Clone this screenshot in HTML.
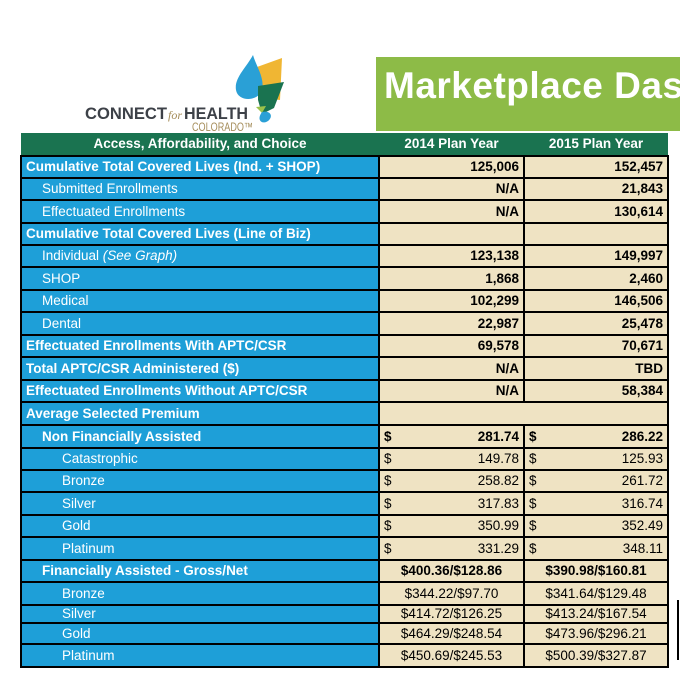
<!DOCTYPE html>
<html><head><meta charset="utf-8"><style>
body{margin:0;width:680px;height:683px;background:#fff;position:relative;overflow:hidden;font-family:"Liberation Sans",sans-serif}
.banner{position:absolute;left:376px;top:57px;width:304px;height:74px;background:#8dbb47;color:#fff;font-weight:bold;font-size:37px;line-height:58px;padding-left:8px;box-sizing:border-box;white-space:nowrap;overflow:hidden;letter-spacing:0.5px}
table{position:absolute;left:20px;top:133px;border-collapse:collapse;table-layout:fixed;width:647px}
td{border:2px solid #000;padding:0 4px;font-size:13.5px;white-space:nowrap;overflow:hidden;box-sizing:border-box;line-height:16px}
td.l{background:#1e9fd8;color:#fff}
td.v{background:#efe3c3;color:#000;text-align:right;font-weight:bold}
td.n{font-weight:normal}
td.c{text-align:center}
tr.h td{background:#1a7350;color:#fff;font-weight:bold;text-align:center;border:none;border-bottom:2px solid #000}
.b{font-weight:bold}
.i1{padding-left:20px}.i2{padding-left:40px}
.d{float:left}
</style></head><body>
<svg style="position:absolute;left:0;top:0" width="376" height="133">
<path d="M257 67 L282 58 L280 100 L262 98Z" fill="#f0b633"/>
<path d="M253 55 C246 68 234 78 236 90 C238 102 258 102 262 90 C265 78 256 66 253 55Z" fill="#2aa0d6"/>
<path d="M258 86 L284 82 L274 108 L262 114 L258 100Z" fill="#1a7350"/>
<path d="M256 107 L266 106 L262 113Z" fill="#9cc24a"/>
<path d="M262 112 C270 110 274 116 268 121 C262 125 256 120 262 112Z" fill="#2aa0d6"/>
<text x="85" y="119" font-family="Liberation Sans" font-weight="bold" font-size="17" fill="#3d4148" textLength="82" lengthAdjust="spacingAndGlyphs">CONNECT</text>
<text x="168" y="119" font-family="Liberation Serif" font-style="italic" font-size="12" fill="#a58d5a">for</text>
<text x="184" y="119" font-family="Liberation Sans" font-weight="bold" font-size="17" fill="#3d4148" textLength="64" lengthAdjust="spacingAndGlyphs">HEALTH</text>
<text x="192" y="131" font-family="Liberation Sans" font-size="12" fill="#a58d5a" textLength="61" lengthAdjust="spacingAndGlyphs">COLORADO™</text>
</svg>
<div class="banner">Marketplace Dashboard</div>
<table>
<colgroup><col style="width:358px"><col style="width:145px"><col style="width:144px"></colgroup>
<tr class="h" style="height:23px"><td>Access, Affordability, and Choice</td><td>2014 Plan Year</td><td>2015 Plan Year</td></tr>
<tr style="height:22px"><td class="l b">Cumulative Total Covered Lives (Ind. + SHOP)</td><td class="v">125,006</td><td class="v">152,457</td></tr>
<tr style="height:22px"><td class="l i1">Submitted Enrollments</td><td class="v">N/A</td><td class="v">21,843</td></tr>
<tr style="height:23px"><td class="l i1">Effectuated Enrollments</td><td class="v">N/A</td><td class="v">130,614</td></tr>
<tr style="height:22px"><td class="l b">Cumulative Total Covered Lives (Line of Biz)</td><td class="v"></td><td class="v"></td></tr>
<tr style="height:22px"><td class="l i1">Individual <i>(See Graph)</i></td><td class="v">123,138</td><td class="v">149,997</td></tr>
<tr style="height:23px"><td class="l i1">SHOP</td><td class="v">1,868</td><td class="v">2,460</td></tr>
<tr style="height:22px"><td class="l i1">Medical</td><td class="v">102,299</td><td class="v">146,506</td></tr>
<tr style="height:23px"><td class="l i1">Dental</td><td class="v">22,987</td><td class="v">25,478</td></tr>
<tr style="height:22px"><td class="l b">Effectuated Enrollments With APTC/CSR</td><td class="v">69,578</td><td class="v">70,671</td></tr>
<tr style="height:23px"><td class="l b">Total APTC/CSR Administered ($)</td><td class="v">N/A</td><td class="v">TBD</td></tr>
<tr style="height:22px"><td class="l b">Effectuated Enrollments Without APTC/CSR</td><td class="v">N/A</td><td class="v">58,384</td></tr>
<tr style="height:23px"><td class="l b">Average Selected Premium</td><td class="v" colspan="2"></td></tr>
<tr style="height:23px"><td class="l b i1">Non Financially Assisted</td><td class="v"><span class="d">$</span>281.74</td><td class="v"><span class="d">$</span>286.22</td></tr>
<tr style="height:22px"><td class="l i2">Catastrophic</td><td class="v n"><span class="d">$</span>149.78</td><td class="v n"><span class="d">$</span>125.93</td></tr>
<tr style="height:22px"><td class="l i2">Bronze</td><td class="v n"><span class="d">$</span>258.82</td><td class="v n"><span class="d">$</span>261.72</td></tr>
<tr style="height:23px"><td class="l i2">Silver</td><td class="v n"><span class="d">$</span>317.83</td><td class="v n"><span class="d">$</span>316.74</td></tr>
<tr style="height:22px"><td class="l i2">Gold</td><td class="v n"><span class="d">$</span>350.99</td><td class="v n"><span class="d">$</span>352.49</td></tr>
<tr style="height:23px"><td class="l i2">Platinum</td><td class="v n"><span class="d">$</span>331.29</td><td class="v n"><span class="d">$</span>348.11</td></tr>
<tr style="height:22px"><td class="l b i1">Financially Assisted - Gross/Net</td><td class="v c">$400.36/$128.86</td><td class="v c">$390.98/$160.81</td></tr>
<tr style="height:23px"><td class="l i2">Bronze</td><td class="v n c">$344.22/$97.70</td><td class="v n c">$341.64/$129.48</td></tr>
<tr style="height:18px"><td class="l i2">Silver</td><td class="v n c">$414.72/$126.25</td><td class="v n c">$413.24/$167.54</td></tr>
<tr style="height:21px"><td class="l i2">Gold</td><td class="v n c">$464.29/$248.54</td><td class="v n c">$473.96/$296.21</td></tr>
<tr style="height:23px"><td class="l i2">Platinum</td><td class="v n c">$450.69/$245.53</td><td class="v n c">$500.39/$327.87</td></tr>
</table>
<div style="position:absolute;left:677px;top:600px;width:2px;height:60px;background:#000"></div>
</body></html>
